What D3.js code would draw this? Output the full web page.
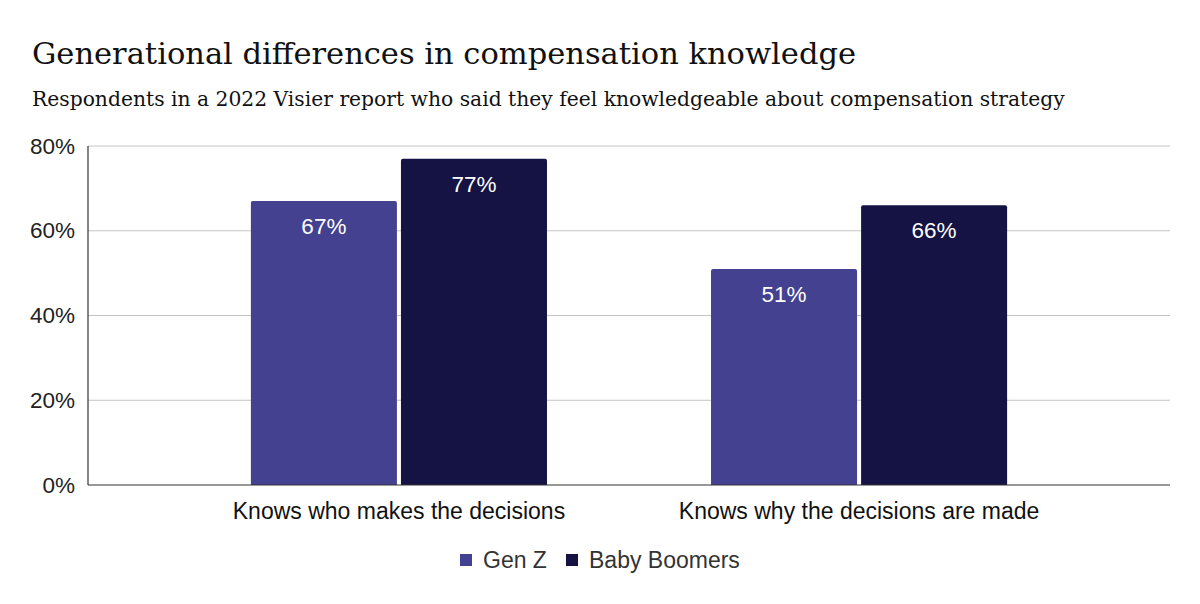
<!DOCTYPE html>
<html>
<head>
<meta charset="utf-8">
<script src="https://cdn.jsdelivr.net/npm/d3@7"></script>
<style>
  body { margin: 0; background: #fff; }
  svg { display: block; }
</style>
</head>
<body>
<div id="chart"></div>
<script>
// Chart data
const categories = ["Knows who makes the decisions", "Knows why the decisions are made"];
const seriesNames = ["Gen Z", "Baby Boomers"];
const genZ = [67, 51];
const boomers = [77, 66];
const yTicks = [0, 20, 40, 60, 80];
const seriesColors = ["#434190", "#141344"];

const width = 1200, height = 604;
const plot = { left: 88, right: 1170, top: 146, bottom: 485 };
const serif = "Georgia, 'DejaVu Serif', serif";
const sans = "Arial, 'Liberation Sans', sans-serif";

const svg = d3.select("#chart")
    .append("svg")
    .attr("width", width)
    .attr("height", height);

// Title and subtitle
svg.append("text")
    .attr("x", 32)
    .attr("y", 64)
    .attr("fill", "#111")
    .style("font-family", serif)
    .style("font-size", "30.5px")
    .text("Generational differences in compensation knowledge");

svg.append("text")
    .attr("x", 32)
    .attr("y", 106)
    .attr("fill", "#111")
    .style("font-family", serif)
    .style("font-size", "20.3px")
    .text("Respondents in a 2022 Visier report who said they feel knowledgeable about compensation strategy");

// Scales
const x0 = d3.scaleBand()
    .domain(categories)
    .range([plot.left, plot.right])
    .paddingInner(0.3565)
    .paddingOuter(0.354);

const x1 = d3.scaleBand()
    .domain(seriesNames)
    .range([0, x0.bandwidth()])
    .paddingInner(0.027);

const y = d3.scaleLinear().domain([0, 80]).range([plot.bottom, plot.top]);

// Gridlines
svg.append("g")
    .selectAll("line")
    .data(yTicks.filter(d => d > 0))
    .join("line")
    .attr("x1", plot.left)
    .attr("x2", plot.right)
    .attr("y1", d => y(d))
    .attr("y2", d => y(d))
    .attr("stroke", "#c4c4c4")
    .attr("stroke-width", 1);

// Y axis labels
const yAxis = svg.append("g")
    .attr("transform", `translate(${plot.left},0)`)
    .call(d3.axisLeft(y).tickValues(yTicks).tickFormat(d => d + "%").tickSize(0).tickPadding(13));
yAxis.select(".domain").remove();
yAxis.selectAll("text")
    .attr("fill", "#222")
    .style("font-family", sans)
    .style("font-size", "22.5px");

// Bars
const rows = categories.map((c, i) => ({ category: c, values: [genZ[i], boomers[i]] }));

const groups = svg.append("g")
    .selectAll("g")
    .data(rows)
    .join("g")
    .attr("transform", d => `translate(${x0(d.category)},0)`);

const bars = groups.selectAll("g")
    .data(d => d.values.map((v, i) => ({ name: seriesNames[i], value: v, color: seriesColors[i] })))
    .join("g");

bars.append("path")
    .attr("fill", d => d.color)
    .attr("d", d => {
        const x = x1(d.name), w = x1.bandwidth(), top = y(d.value), r = 2;
        return `M${x},${plot.bottom}V${top + r}Q${x},${top} ${x + r},${top}H${x + w - r}Q${x + w},${top} ${x + w},${top + r}V${plot.bottom}Z`;
    });

bars.append("text")
    .attr("x", d => x1(d.name) + x1.bandwidth() / 2)
    .attr("y", d => y(d.value) + 33)
    .attr("text-anchor", "middle")
    .attr("fill", "#fff")
    .style("font-family", sans)
    .style("font-size", "22.5px")
    .text(d => d.value + "%");

// Axis lines
svg.append("line")
    .attr("x1", plot.left).attr("x2", plot.left)
    .attr("y1", plot.top).attr("y2", plot.bottom)
    .attr("stroke", "#333").attr("stroke-width", 1.2);

const xAxis = svg.append("g")
    .attr("transform", `translate(0,${plot.bottom})`)
    .call(d3.axisBottom(x0).tickSize(0).tickPadding(18));
xAxis.select(".domain").attr("stroke", "#333").attr("stroke-width", 1.2)
    .attr("d", `M${plot.left},0H${plot.right}`);
xAxis.selectAll("text")
    .attr("fill", "#111")
    .style("font-family", sans)
    .style("font-size", "23px");

// Legend
const legendItems = [
    { label: seriesNames[0], color: seriesColors[0], x: 460 },
    { label: seriesNames[1], color: seriesColors[1], x: 566 }
];
const legend = svg.append("g").attr("transform", "translate(0,554)");
legendItems.forEach(d => {
    legend.append("rect")
        .attr("x", d.x)
        .attr("y", 0)
        .attr("width", 12)
        .attr("height", 12)
        .attr("fill", d.color);
    legend.append("text")
        .attr("x", d.x + 23)
        .attr("y", 14)
        .attr("fill", "#333")
        .style("font-family", sans)
        .style("font-size", "23px")
        .text(d.label);
});
</script>
</body>
</html>
